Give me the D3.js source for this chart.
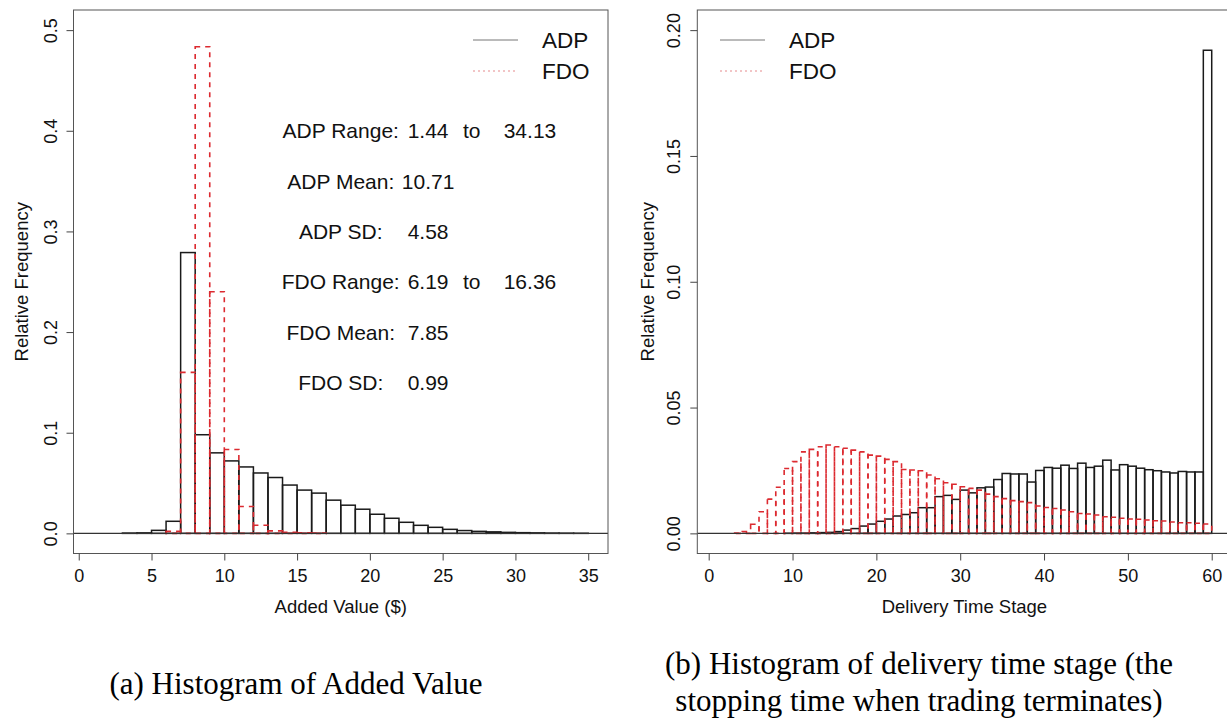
<!DOCTYPE html>
<html>
<head>
<meta charset="utf-8">
<script src="https://cdn.jsdelivr.net/npm/d3@7"></script>
<style>
  html, body { margin: 0; padding: 0; background: #fff; }
  svg { display: block; }
</style>
</head>
<body>
<div id="chart"></div>
<script>
// ---- data ----
// (a) Added Value, bins of width 1
const valueBreaks = d3.range(1, 36);          // 1..35
const adpValue = [0, 0, 0.0003, 0.0005, 0.003, 0.012, 0.279, 0.098, 0.080, 0.072,
  0.066, 0.060, 0.0555, 0.048, 0.043, 0.040, 0.033, 0.028, 0.024, 0.019,
  0.015, 0.011, 0.008, 0.006, 0.004, 0.0028, 0.002, 0.0015, 0.001, 0.0007,
  0.0005, 0.0003, 0.0002, 0.0001];
const fdoValueBreaks = d3.range(6, 18);       // 6..17
const fdoValue = [0.002, 0.16, 0.4835, 0.24, 0.0833, 0.0267, 0.008, 0.0025, 0.001, 0.0005, 0.0002];

// (b) Delivery time stage, bins of width 1
const stageBreaks = d3.range(1, 61);          // 1..60
const adpStage = [0, 0, 0, 0, 0, 0, 0, 0, 0.00005, 0.0001,
  0.0001, 0.0002, 0.0003, 0.0004, 0.0007, 0.0013, 0.0019, 0.0029, 0.0037, 0.0048,
  0.0057, 0.0069, 0.0075, 0.0082, 0.0102, 0.0102, 0.0146, 0.0151, 0.0135, 0.0172,
  0.0161, 0.0181, 0.0184, 0.0214, 0.0238, 0.0236, 0.0236, 0.0204, 0.0250, 0.0262,
  0.0259, 0.0271, 0.0258, 0.0279, 0.0262, 0.0267, 0.0291, 0.0252, 0.0273, 0.0267,
  0.0259, 0.0253, 0.0249, 0.0244, 0.0240, 0.0246, 0.0244, 0.0244, 0.192];
const fdoStage = [0, 0, 0.0001, 0.0007, 0.0036, 0.0086, 0.0136, 0.0183, 0.0258, 0.0285,
  0.0324, 0.0334, 0.0344, 0.0351, 0.0344, 0.0338, 0.0331, 0.0324, 0.0311, 0.0307,
  0.0294, 0.0285, 0.0254, 0.0252, 0.0249, 0.0232, 0.0217, 0.0201, 0.0195, 0.0185,
  0.0179, 0.0172, 0.0156, 0.0146, 0.0138, 0.0130, 0.0126, 0.0122, 0.0109, 0.0103,
  0.0099, 0.0093, 0.0086, 0.0079, 0.0077, 0.0073, 0.0066, 0.0064, 0.0060, 0.0057,
  0.0056, 0.0053, 0.0050, 0.0049, 0.0045, 0.0042, 0.0042, 0.0040, 0.0037];

const valueTicks = [0, 5, 10, 15, 20, 25, 30, 35];
const valueFreqTicks = [0, 0.1, 0.2, 0.3, 0.4, 0.5];
const stageTicks = [0, 10, 20, 30, 40, 50, 60];
const stageFreqTicks = [0, 0.05, 0.10, 0.15, 0.20];

const seriesNames = ["ADP", "FDO"];
const statLabels = ["ADP Range:", "ADP Mean:", "ADP SD:", "FDO Range:", "FDO Mean:", "FDO SD:"];
const statValues = ["1.44", "10.71", "4.58", "6.19", "7.85", "0.99"];
const statUpper = ["34.13", null, null, "16.36", null, null];
const statY = [0.40, 0.35, 0.30, 0.25, 0.20, 0.15];

const captionA = ["(a) Histogram of Added Value"];
const captionB = ["(b) Histogram of delivery time stage (the", "stopping time when trading terminates)"];

// ---- drawing ----
const W = 1227, H = 719;
const SANS = "'Liberation Sans', Arial, Helvetica, sans-serif";
const SERIF = "'Liberation Serif', 'Times New Roman', serif";
const RED = "#dc2a30";

const svg = d3.select('#chart').append('svg')
  .attr('width', W).attr('height', H)
  .style('background', '#fff');

// R style: 4% padding around the data range
function rlim(lo, hi) {
  const pad = (hi - lo) * 0.04;
  return [lo - pad, hi + pad];
}

function toBins(breaks, values) {
  return values.map((v, i) => ({ x0: breaks[i], x1: breaks[i + 1], v: v }));
}

function drawPanel(cfg) {
  const x = d3.scaleLinear().domain(rlim(cfg.xlim[0], cfg.xlim[1])).range([cfg.left, cfg.right]);
  const y = d3.scaleLinear().domain(rlim(cfg.ylim[0], cfg.ylim[1])).range([cfg.bottom, cfg.top]);
  const g = svg.append('g');

  // black histogram
  g.append('g').selectAll('rect')
    .data(toBins(cfg.breaks, cfg.adp))
    .enter().append('rect')
    .attr('x', d => x(d.x0))
    .attr('y', d => y(d.v))
    .attr('width', d => x(d.x1) - x(d.x0))
    .attr('height', d => y(0) - y(d.v))
    .attr('fill', 'none')
    .attr('stroke', '#1a1a1a')
    .attr('stroke-width', 1.5);

  // red dashed histogram on top
  g.append('g').selectAll('rect')
    .data(toBins(cfg.fdoBreaks, cfg.fdo))
    .enter().append('rect')
    .attr('x', d => x(d.x0))
    .attr('y', d => y(d.v))
    .attr('width', d => x(d.x1) - x(d.x0))
    .attr('height', d => y(0) - y(d.v))
    .attr('fill', 'none')
    .attr('stroke', RED)
    .attr('stroke-width', 1.6)
    .attr('stroke-dasharray', '5,5');

  // horizontal line at 0
  g.append('line')
    .attr('x1', cfg.left).attr('x2', cfg.right)
    .attr('y1', y(0)).attr('y2', y(0))
    .attr('stroke', '#333').attr('stroke-width', 1.3);

  // box
  g.append('rect')
    .attr('x', cfg.left).attr('y', cfg.top)
    .attr('width', cfg.right - cfg.left).attr('height', cfg.bottom - cfg.top)
    .attr('fill', 'none').attr('stroke', '#555').attr('stroke-width', 1);

  // x axis
  const xAxis = g.append('g')
    .attr('transform', `translate(0,${cfg.bottom})`)
    .call(d3.axisBottom(x).tickValues(cfg.xTicks).tickSize(7).tickPadding(4).tickFormat(d3.format('d')));
  xAxis.select('.domain').remove();
  xAxis.selectAll('line').attr('stroke', '#444');
  xAxis.selectAll('text')
    .attr('dy', null).attr('y', 28.5)
    .style('font-family', SANS).style('font-size', '18px').attr('fill', '#111');

  // y axis, labels rotated like R's default
  const yAxis = g.append('g')
    .attr('transform', `translate(${cfg.left},0)`)
    .call(d3.axisLeft(y).tickValues(cfg.yTicks).tickSize(7).tickFormat(d3.format(cfg.yFormat)));
  yAxis.select('.domain').remove();
  yAxis.selectAll('line').attr('stroke', '#444');
  yAxis.selectAll('text')
    .attr('x', null).attr('dy', null)
    .attr('text-anchor', 'middle')
    .attr('transform', 'translate(-17,0) rotate(-90)')
    .style('font-family', SANS).style('font-size', '18px').attr('fill', '#111');

  // axis titles
  g.append('text')
    .attr('x', (cfg.left + cfg.right) / 2).attr('y', cfg.bottom + 59)
    .attr('text-anchor', 'middle')
    .style('font-family', SANS).style('font-size', '18.5px').attr('fill', '#111')
    .text(cfg.xTitle);
  g.append('text')
    .attr('transform', `translate(${cfg.left - cfg.yTitleGap},${(cfg.top + cfg.bottom) / 2}) rotate(-90)`)
    .attr('text-anchor', 'middle')
    .style('font-family', SANS).style('font-size', '18.5px').attr('fill', '#111')
    .text('Relative Frequency');

  // legend (no box)
  const lg = g.append('g').attr('transform', `translate(${cfg.legendX},${cfg.top + 30})`);
  seriesNames.forEach((name, i) => {
    lg.append('line')
      .attr('x1', 0).attr('x2', 45).attr('y1', i * 31).attr('y2', i * 31)
      .attr('stroke', i === 0 ? '#777' : '#e58a8c')
      .attr('stroke-width', 1)
      .attr('stroke-dasharray', i === 0 ? null : '2,3');
    lg.append('text')
      .attr('x', 69).attr('y', i * 31).attr('dy', '0.36em')
      .style('font-family', SANS).style('font-size', '22.5px').attr('fill', '#111')
      .text(name);
  });

  return { x: x, y: y, g: g };
}

const panelA = drawPanel({
  left: 73.5, right: 608, top: 10, bottom: 553.5,
  xlim: [1, 35], ylim: [0, 0.5],
  breaks: valueBreaks, adp: adpValue,
  fdoBreaks: fdoValueBreaks, fdo: fdoValue,
  xTicks: valueTicks, yTicks: valueFreqTicks, yFormat: '.1f',
  xTitle: 'Added Value ($)', yTitleGap: 46,
  legendX: 473
});

const panelB = drawPanel({
  left: 697.3, right: 1231.5, top: 10, bottom: 553.5,
  xlim: [1, 60], ylim: [0, 0.2],
  breaks: stageBreaks, adp: adpStage,
  fdoBreaks: stageBreaks, fdo: fdoStage,
  xTicks: stageTicks, yTicks: stageFreqTicks, yFormat: '.2f',
  xTitle: 'Delivery Time Stage', yTitleGap: 43,
  legendX: 720
});

// summary statistics in panel (a), placed in data coordinates
const stats = panelA.g.append('g')
  .style('font-family', SANS).style('font-size', '21px').attr('fill', '#111')
  .attr('text-anchor', 'middle');
statLabels.forEach((lab, i) => {
  const yy = panelA.y(statY[i]);
  stats.append('text').attr('x', panelA.x(18)).attr('y', yy).attr('dy', '0.36em').text(lab);
  stats.append('text').attr('x', panelA.x(24)).attr('y', yy).attr('dy', '0.36em').text(statValues[i]);
  if (statUpper[i]) {
    stats.append('text').attr('x', panelA.x(27)).attr('y', yy).attr('dy', '0.36em').text('to');
    stats.append('text').attr('x', panelA.x(31)).attr('y', yy).attr('dy', '0.36em').text(statUpper[i]);
  }
});

// captions
svg.append('g').selectAll('text')
  .data(captionA).enter().append('text')
  .attr('x', 296).attr('y', (d, i) => 694 + i * 37)
  .attr('text-anchor', 'middle')
  .style('font-family', SERIF).style('font-size', '31px').attr('fill', '#000')
  .text(d => d);
svg.append('g').selectAll('text')
  .data(captionB).enter().append('text')
  .attr('x', 919).attr('y', (d, i) => 674 + i * 37)
  .attr('text-anchor', 'middle')
  .style('font-family', SERIF).style('font-size', '31px').attr('fill', '#000')
  .text(d => d);
</script>
</body>
</html>
